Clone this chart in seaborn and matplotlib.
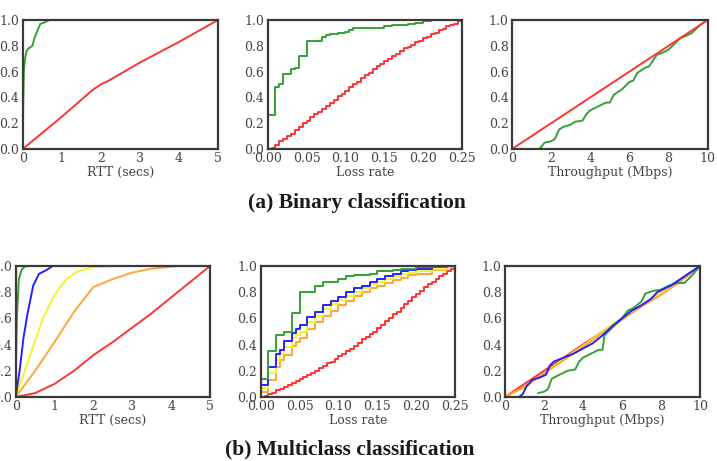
import matplotlib
matplotlib.use("Agg")
import matplotlib.pyplot as plt
import seaborn as sns

# ---------------- datos ----------------
# (a) binaria - RTT
bin_rtt_green_x = [0, 0.01, 0.03, 0.06, 0.1, 0.15, 0.25, 0.3, 0.38, 0.45, 0.55, 0.68, 0.8, 0.91]
bin_rtt_green_y = [0, 0.3, 0.6, 0.7, 0.76, 0.78, 0.8, 0.86, 0.92, 0.97, 0.98, 1.0, 1.0, 1.0]
bin_rtt_red_x = [0, 1, 1.8, 2, 2.2, 3, 4, 5]
bin_rtt_red_y = [0, 0.25, 0.46, 0.5, 0.53, 0.67, 0.83, 1.0]

# (a) binaria - loss rate
bin_loss_green_x = [0, 0.01, 0.015, 0.02, 0.03, 0.035, 0.04, 0.05, 0.07, 0.075, 0.08, 0.09, 0.1,
                    0.105, 0.11, 0.14, 0.15, 0.16, 0.18, 0.19, 0.2, 0.21, 0.25]
bin_loss_green_y = [0.26, 0.48, 0.5, 0.58, 0.62, 0.63, 0.72, 0.84, 0.87, 0.88, 0.89, 0.9, 0.91,
                    0.92, 0.94, 0.94, 0.95, 0.96, 0.97, 0.98, 0.99, 1.0, 1.0]
loss_steps = [0.0, 0.005, 0.01, 0.015, 0.02, 0.025, 0.03, 0.035, 0.04, 0.045, 0.05, 0.055, 0.06,
              0.065, 0.07, 0.075, 0.08, 0.085, 0.09, 0.095, 0.1, 0.105, 0.11, 0.115, 0.12, 0.125,
              0.13, 0.135, 0.14, 0.145, 0.15, 0.155, 0.16, 0.165, 0.17, 0.175, 0.18, 0.185, 0.19,
              0.195, 0.2, 0.205, 0.21, 0.215, 0.22, 0.225, 0.23, 0.235, 0.24, 0.245, 0.25]
bin_loss_red_y = [0.0, 0.01, 0.03, 0.06, 0.08, 0.1, 0.12, 0.15, 0.17, 0.2, 0.22, 0.25, 0.27,
                  0.29, 0.31, 0.33, 0.36, 0.38, 0.41, 0.43, 0.45, 0.48, 0.5, 0.52, 0.55, 0.57,
                  0.59, 0.62, 0.64, 0.66, 0.68, 0.7, 0.72, 0.74, 0.76, 0.78, 0.79, 0.81, 0.83,
                  0.84, 0.86, 0.87, 0.89, 0.9, 0.92, 0.93, 0.95, 0.96, 0.97, 0.99, 1.0]

# (a) binaria - throughput
bin_tput_red_x = [0, 10]
bin_tput_red_y = [0, 1.0]
bin_tput_green_x = [1.4, 1.67, 2.0, 2.2, 2.4, 2.6, 3.0, 3.2, 3.6, 3.8, 4.0, 4.4, 4.8, 5.0, 5.2,
                    5.6, 6.0, 6.2, 6.4, 6.8, 7.0, 7.4, 7.6, 8.0, 8.2, 8.6, 8.8, 9.2, 9.6, 10.0]
bin_tput_green_y = [0.0, 0.05, 0.06, 0.08, 0.15, 0.17, 0.19, 0.21, 0.22, 0.27, 0.3, 0.33, 0.36,
                    0.36, 0.42, 0.46, 0.52, 0.53, 0.59, 0.63, 0.64, 0.73, 0.74, 0.77, 0.8, 0.86,
                    0.87, 0.9, 0.96, 1.0]

# (b) multiclase - RTT
mc_rtt_green_x = [0, 0.01, 0.03, 0.08, 0.15, 0.25, 0.3]
mc_rtt_green_y = [0, 0.3, 0.6, 0.9, 0.97, 1.0, 1.0]
mc_rtt_blue_x = [0, 0.1, 0.2, 0.3, 0.45, 0.6, 0.8, 0.95, 1.1]
mc_rtt_blue_y = [0, 0.2, 0.45, 0.63, 0.85, 0.94, 0.97, 1.0, 1.0]
mc_rtt_yellow_x = [0, 0.35, 0.7, 1.0, 1.3, 1.6, 2.0, 2.6]
mc_rtt_yellow_y = [0, 0.3, 0.6, 0.78, 0.9, 0.96, 0.99, 1.0]
mc_rtt_orange_x = [0, 0.5, 1.0, 1.5, 2.0, 2.5, 3.0, 3.5, 4.2, 5.0]
mc_rtt_orange_y = [0, 0.2, 0.42, 0.65, 0.84, 0.9, 0.95, 0.98, 1.0, 1.0]
mc_rtt_red_x = [0, 0.5, 1, 1.5, 2, 2.5, 3, 3.5, 4, 4.5, 5]
mc_rtt_red_y = [0, 0.03, 0.1, 0.2, 0.32, 0.42, 0.53, 0.64, 0.76, 0.88, 1.0]

# (b) multiclase - loss rate
mc_loss_green_x = [0, 0.01, 0.02, 0.03, 0.04, 0.05, 0.07, 0.08, 0.1, 0.11, 0.12, 0.14, 0.15,
                   0.17, 0.18, 0.2, 0.24, 0.25]
mc_loss_green_y = [0.14, 0.35, 0.47, 0.5, 0.64, 0.8, 0.85, 0.88, 0.9, 0.92, 0.93, 0.94, 0.96,
                   0.97, 0.98, 0.99, 1.0, 1.0]
mc_loss_x = [0, 0.01, 0.02, 0.025, 0.03, 0.04, 0.045, 0.05, 0.06, 0.07, 0.08, 0.09, 0.1, 0.11,
             0.12, 0.13, 0.14, 0.15, 0.16, 0.17, 0.18, 0.19, 0.2, 0.22, 0.24, 0.25]
mc_loss_blue_y = [0.09, 0.23, 0.33, 0.36, 0.43, 0.49, 0.52, 0.55, 0.61, 0.65, 0.7, 0.73, 0.76,
                  0.8, 0.83, 0.85, 0.88, 0.9, 0.92, 0.94, 0.96, 0.97, 0.98, 0.99, 1.0, 1.0]
mc_loss_yellow_y = [0.07, 0.18, 0.28, 0.33, 0.38, 0.45, 0.47, 0.5, 0.57, 0.62, 0.67, 0.71, 0.74,
                    0.77, 0.8, 0.83, 0.86, 0.88, 0.9, 0.92, 0.94, 0.95, 0.96, 0.98, 0.99, 1.0]
mc_loss_orange_y = [0.04, 0.13, 0.23, 0.28, 0.32, 0.39, 0.42, 0.45, 0.52, 0.57, 0.62, 0.66, 0.7,
                    0.73, 0.77, 0.8, 0.83, 0.85, 0.87, 0.89, 0.91, 0.93, 0.94, 0.97, 0.99, 1.0]
mc_loss_red_y = [0.0, 0.01, 0.02, 0.03, 0.05, 0.06, 0.08, 0.09, 0.11, 0.12, 0.14, 0.15, 0.17,
                 0.18, 0.2, 0.22, 0.24, 0.26, 0.27, 0.29, 0.31, 0.33, 0.35, 0.37, 0.39, 0.41,
                 0.44, 0.46, 0.48, 0.5, 0.53, 0.55, 0.58, 0.6, 0.63, 0.65, 0.68, 0.71, 0.73,
                 0.76, 0.79, 0.81, 0.84, 0.86, 0.88, 0.9, 0.92, 0.94, 0.96, 0.98, 1.0]

# (b) multiclase - throughput
mc_tput_x = [0, 1, 2, 3, 4, 5, 6, 7, 8, 9, 10]
mc_tput_red_y = [0, 0.1, 0.2, 0.3, 0.4, 0.5, 0.6, 0.7, 0.8, 0.9, 1.0]
mc_tput_orange_y = [0, 0.08, 0.18, 0.28, 0.38, 0.49, 0.59, 0.69, 0.78, 0.88, 1.0]
mc_tput_yellow_y = [0, 0.07, 0.18, 0.29, 0.39, 0.5, 0.6, 0.7, 0.8, 0.89, 1.0]
mc_tput_blue_x = [0.7, 0.9, 1.1, 1.4, 1.8, 2.1, 2.3, 2.5, 3.0, 3.5, 4.0, 4.5, 5.0, 5.5, 6.0,
                  6.5, 7.0, 7.5, 7.8, 8.5, 9.0, 9.5, 10.0]
mc_tput_blue_y = [0.0, 0.02, 0.08, 0.13, 0.15, 0.17, 0.24, 0.27, 0.3, 0.33, 0.37, 0.41, 0.47,
                  0.54, 0.6, 0.66, 0.7, 0.75, 0.8, 0.85, 0.9, 0.95, 1.0]
mc_tput_green_x = [1.7, 2.0, 2.2, 2.4, 2.8, 3.2, 3.6, 3.8, 4.0, 4.4, 4.8, 5.0, 5.1, 5.5, 6.0,
                   6.3, 6.6, 7.0, 7.2, 7.6, 8.0, 8.4, 8.8, 9.2, 9.6, 10.0]
mc_tput_green_y = [0.03, 0.04, 0.06, 0.14, 0.17, 0.2, 0.21, 0.27, 0.3, 0.33, 0.36, 0.36, 0.47,
                   0.53, 0.6, 0.66, 0.68, 0.73, 0.79, 0.81, 0.82, 0.85, 0.87, 0.87, 0.93, 1.0]

# colores
VERDE = '#35a035'
ROJO = '#ff3333'
AZUL = '#2222ff'
AMARILLO = '#f5f22a'
NARANJA = '#ffa53a'

# ---------------- estilo ----------------
sns.set_style("white")
plt.rcParams['font.family'] = ['DejaVu Serif']
plt.rcParams['axes.edgecolor'] = '#3a3a3a'
plt.rcParams['axes.linewidth'] = 1.6

W, H = 717, 461
fig = plt.figure(figsize=(W / 100, H / 100), dpi=100)


def crear_ejes(x0, x1, ytop, ybot):
    # posiciones en pixeles -> fracciones de figura
    return fig.add_axes([x0 / W, 1 - ybot / H, (x1 - x0) / W, (ybot - ytop) / H])


def linea(ax, x, y, color, pasos=False):
    kw = {'drawstyle': 'steps-post'} if pasos else {}
    sns.lineplot(x=x, y=y, ax=ax, color=color, linewidth=1.4, estimator=None,
                 sort=False, legend=False, **kw)


def formato(ax, xlim, xticks, xlabel, xfmt):
    ax.set_xlim(*xlim)
    ax.set_ylim(0, 1)
    ax.set_xticks(xticks)
    ax.set_xticklabels([xfmt.format(t) for t in xticks])
    ax.set_yticks([0, 0.2, 0.4, 0.6, 0.8, 1.0])
    ax.set_yticklabels(['0.0', '0.2', '0.4', '0.6', '0.8', '1.0'])
    ax.tick_params(labelsize=9, colors='#444444', direction='out', length=2, width=1,
                   pad=0.5)
    ax.set_xlabel(xlabel, fontsize=9, color='#444444', labelpad=0.5)
    ax.set_ylabel('')


# fila superior
ax1 = crear_ejes(22.7, 218, 20, 149)
linea(ax1, bin_rtt_green_x, bin_rtt_green_y, VERDE)
linea(ax1, bin_rtt_red_x, bin_rtt_red_y, ROJO)
formato(ax1, (0, 5), [0, 1, 2, 3, 4, 5], 'RTT (secs)', '{:g}')

ax2 = crear_ejes(267.7, 462, 20, 149)
linea(ax2, bin_loss_green_x, bin_loss_green_y, VERDE, pasos=True)
linea(ax2, loss_steps, bin_loss_red_y, ROJO, pasos=True)
formato(ax2, (0, 0.25), [0, 0.05, 0.1, 0.15, 0.2, 0.25], 'Loss rate', '{:.2f}')

ax3 = crear_ejes(512, 707.7, 20, 149)
linea(ax3, bin_tput_green_x, bin_tput_green_y, VERDE)
linea(ax3, bin_tput_red_x, bin_tput_red_y, ROJO)
formato(ax3, (0, 10), [0, 2, 4, 6, 8, 10], 'Throughput (Mbps)', '{:g}')

# fila inferior
ax4 = crear_ejes(15.7, 210, 266, 397)
linea(ax4, mc_rtt_red_x, mc_rtt_red_y, ROJO)
linea(ax4, mc_rtt_orange_x, mc_rtt_orange_y, NARANJA)
linea(ax4, mc_rtt_yellow_x, mc_rtt_yellow_y, AMARILLO)
linea(ax4, mc_rtt_blue_x, mc_rtt_blue_y, AZUL)
linea(ax4, mc_rtt_green_x, mc_rtt_green_y, VERDE)
formato(ax4, (0, 5), [0, 1, 2, 3, 4, 5], 'RTT (secs)', '{:g}')

ax5 = crear_ejes(260.7, 455, 266, 397)
linea(ax5, loss_steps, mc_loss_red_y, ROJO, pasos=True)
linea(ax5, mc_loss_x, mc_loss_orange_y, NARANJA, pasos=True)
linea(ax5, mc_loss_x, mc_loss_yellow_y, AMARILLO, pasos=True)
linea(ax5, mc_loss_x, mc_loss_blue_y, AZUL, pasos=True)
linea(ax5, mc_loss_green_x, mc_loss_green_y, VERDE, pasos=True)
formato(ax5, (0, 0.25), [0, 0.05, 0.1, 0.15, 0.2, 0.25], 'Loss rate', '{:.2f}')

ax6 = crear_ejes(505, 700, 266, 397)
linea(ax6, mc_tput_x, mc_tput_red_y, ROJO)
linea(ax6, mc_tput_x, mc_tput_yellow_y, AMARILLO)
linea(ax6, mc_tput_x, mc_tput_orange_y, NARANJA)
linea(ax6, mc_tput_green_x, mc_tput_green_y, VERDE)
linea(ax6, mc_tput_blue_x, mc_tput_blue_y, AZUL)
formato(ax6, (0, 10), [0, 2, 4, 6, 8, 10], 'Throughput (Mbps)', '{:g}')

# titulos de cada fila
fig.text(357 / W, 1 - 203 / H, '(a) Binary classification', ha='center', va='center',
         fontsize=15.5, fontweight='bold', family='Liberation Serif', color='#1a1a1a')
fig.text(350 / W, 1 - 449 / H, '(b) Multiclass classification', ha='center', va='center',
         fontsize=15.5, fontweight='bold', family='Liberation Serif', color='#1a1a1a')

fig.savefig('out.png', dpi=100)
